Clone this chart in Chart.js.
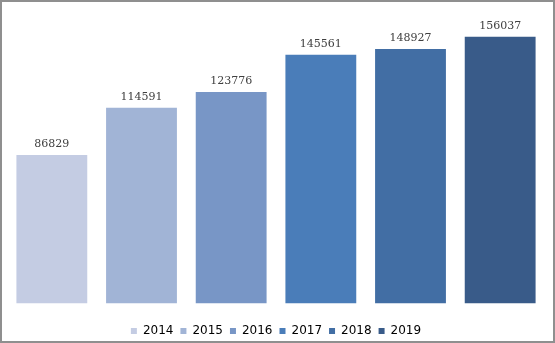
<!DOCTYPE html>
<html lang="en">
<head>
    <meta charset="UTF-8">
    <title>Yearly totals</title>
    <script src="https://cdn.jsdelivr.net/npm/chart.js"></script>
    <style>
        body {
            margin: 0;
            background: #ffffff;
        }

        /* outer frame like the original chart border */
        #frame {
            width: 555px;
            height: 343px;
            box-sizing: border-box;
            border: 2px solid #8f8f8f;
            background: #ffffff;
        }

        #box {
            position: relative;
            width: 551px;
            height: 339px;
        }
    </style>
</head>
<body>
    <div id="frame">
        <div id="box">
            <canvas id="yearChart"></canvas>
        </div>
    </div>

    <script>
        // chart data
        const years = ['2014', '2015', '2016', '2017', '2018', '2019'];
        const totals = [86829, 114591, 123776, 145561, 148927, 156037];
        const barColors = ['#c4cce3', '#a1b4d6', '#7896c6', '#4a7db9', '#426ea4', '#395b89'];

        // draws the value above each bar
        const valueLabels = {
            id: 'valueLabels',
            afterDatasetsDraw(chart) {
                const ctx = chart.ctx;
                const meta = chart.getDatasetMeta(0);
                ctx.save();
                ctx.font = '11px "DejaVu Serif"';
                ctx.fillStyle = '#404040';
                ctx.textAlign = 'center';
                ctx.textBaseline = 'bottom';
                meta.data.forEach((bar, i) => {
                    ctx.fillText(totals[i], bar.x, bar.y - 5);
                });
                ctx.restore();
            }
        };

        new Chart(document.getElementById('yearChart'), {
            type: 'bar',
            data: {
                labels: years,
                datasets: [{
                    data: totals,
                    backgroundColor: barColors,
                    categoryPercentage: 0.79,
                    barPercentage: 1.0
                }]
            },
            options: {
                responsive: true,
                maintainAspectRatio: false,
                animation: false,
                layout: {
                    padding: { left: 5, right: 8, top: 28, bottom: -6 }
                },
                scales: {
                    // x axis kept only as empty space between bars and legend
                    x: {
                        display: true,
                        grid: { display: false, drawTicks: false },
                        border: { display: false },
                        ticks: { color: 'rgba(0,0,0,0)', font: { size: 2 }, padding: 6 }
                    },
                    y: { display: false, min: 0, max: 160000 }
                },
                plugins: {
                    tooltip: { enabled: false },
                    legend: {
                        position: 'bottom',
                        labels: {
                            boxWidth: 6,
                            boxHeight: 6,
                            padding: 7,
                            color: '#595959',
                            font: { family: '"DejaVu Sans"', size: 12 },
                            generateLabels(chart) {
                                return years.map((y, i) => ({
                                    text: y,
                                    fillStyle: barColors[i],
                                    strokeStyle: barColors[i],
                                    lineWidth: 0,
                                    index: i
                                }));
                            }
                        }
                    }
                }
            },
            plugins: [valueLabels]
        });
    </script>
</body>
</html>
